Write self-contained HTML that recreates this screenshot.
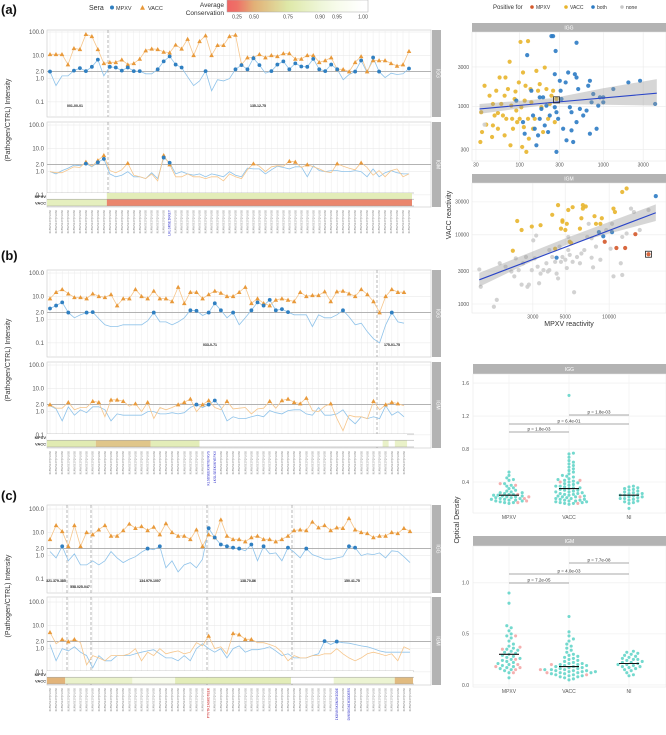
<!DOCTYPE html>
<html><head><meta charset="utf-8">
<style>
html,body{margin:0;padding:0;background:#fff;}
svg{display:block;font-family:"Liberation Sans",sans-serif;}
</style></head>
<body>
<svg id="fig" width="666" height="735" viewBox="0 0 666 735" xmlns="http://www.w3.org/2000/svg"></svg>
<script>
// ---------------- DATA ----------------
// Panel (a)
const aIggVacc=[11,11,11,4,20,18,80,65,18,4.5,5,5,6.5,4,4.5,7,16,19,18,14,13,28,19,50,10,40,70,10,27,27,65,75,4,8,8,11,8,10,9,12,12,7,7,10,10,5,6,8,2.5,2.5,2,5,9,2,6,6,6,4.5,3.5,4,15];
const aIggMpxv=[2,0.5,1.3,1.3,2.2,2.8,2.1,3.2,6.5,1.3,3.2,3,2.2,3,2.1,2.1,1.6,1.6,2.5,5.5,9,4,3,1.2,0.5,0.8,2.1,0.3,0.9,0.8,1,2.5,3.8,2.5,7.5,3.8,1.7,2.1,4,5.5,2.5,4.5,3.3,3.2,7,2.5,2.1,4,2.5,0.9,1.5,2,6,1.8,8,2,1.1,1.7,1.5,1.6,2.7];
const aIgmVacc=[1,0.9,0.9,1.2,1.6,1.5,2.6,1.7,3,5,1.1,0.9,1.2,2.3,0.7,0.6,0.5,0.8,0.4,5,2,0.6,0.6,0.8,0.6,0.6,0.5,0.6,0.6,0.4,0.8,0.6,0.5,1.2,2.2,1.7,1,1.6,1.8,1.7,2.8,2.6,1.5,2,1.6,1.3,1,0.9,2.2,1.7,1.4,1.2,2.4,1.5,0.7,1.1,0.6,1.1,1.3,0.6,0.8];
const aIgmMpxv=[1,0.8,1.1,1.4,1.9,1.8,2.2,1.6,2.5,3.5,0.8,0.6,0.7,1,0.6,0.6,0.5,0.9,0.5,4,2.4,0.8,1,0.8,0.7,0.8,0.6,0.8,0.7,0.6,1,0.7,0.6,1.4,1.3,1.3,0.8,1.2,1.7,1.5,1.3,1.6,1.6,0.6,1.8,1.1,1,1.1,1.1,1.0,1.0,1.1,1,0.6,1.3,0.6,0.9,1.1,0.9,0.8,0.8];
const aConsMpxv=[[0,9,1.0],[10,60,0.8]];
const aConsVacc=[[0,9,0.82],[10,60,0.33]];
const aRegions=["001-00-01","135-12-75"];
// Panel (b)
const bIggVacc=[8,15,20,13,9,9,8,13,10,9,12,4,8,8,20,10,8,17,8,8,6,25,5,15,15,8,12,17,14,10,10,15,25,5,8,5,4,7,8,7,6,15,10,11,11,16,6,16,17,13,10,20,12,6,2,10,20,15,15];
const bIggMpxv=[3,4,5.5,2,1.2,1.6,2,2.1,1.1,0.6,0.5,0.5,0.6,0.6,0.6,0.6,0.9,2,0.8,0.8,0.6,0.8,1.2,2.5,2.4,1.5,2,5,2.5,1.2,2,0.6,1.2,2.5,5.5,4,7,2.5,2.8,2.1,1.6,1.6,1.6,0.5,1.6,1.2,1.2,1.6,2.5,1.3,0.6,0.7,0.3,0.15,0.1,0.6,2,0.8,0.7];
const bIgmVacc=[2,1.4,1.4,2.5,1.2,1.5,1.5,2.8,2.5,0.6,3.2,3.2,2.8,1.7,2.2,1,2.5,0.5,1.5,1.2,1.5,2,2.5,3.5,1,2,3,1.5,1.2,2.8,1.3,1.4,1.5,0.8,1.3,1.4,2.8,1.4,3,3.5,2.5,2.2,3.8,1.1,1,1.7,2.2,0.5,0.15,0.7,0.6,0.6,0.5,2.8,1.2,2,2.5,2.2,1.8];
const bIgmMpxv=[1.8,1.3,0.4,1.6,0.7,1.2,0.9,1.6,1.6,1.2,0.4,0.8,0.7,0.7,0.7,0.7,1,1,0.8,0.8,0.9,0.8,0.9,1.5,2,1.5,2,3,1.5,0.4,0.6,0.5,0.5,0.6,0.7,0.6,1.1,0.9,0.8,1.1,1.2,1.2,0.8,0.7,1.5,0.7,0.7,0.8,1.2,0.5,0.3,0.6,0.5,0.6,0.5,1.8,0.7,1,0.6];
const bConsMpxv=[[0,58,1.0]];
const bConsVacc=[[0,7,0.78],[8,16,0.6],[17,24,0.8],[25,54,1.0],[55,55,0.85],[56,56,1.0],[57,58,0.85]];
const bRegions=["033-0-71","175-01-75"];
// Panel (c)
const cIggVacc=[5,20,11,2.5,20,2.5,10,8,13,20,7,7,12,23,15,18,12,17,8,24,10,7,7,5,13,2.5,8,6,35,7,5,5,4,6,7,5,5,4,5,7,12,13,12,28,16,20,12,16,15,40,13,10,9,6,7,7,10,9,15,11];
const cIggMpxv=[1.5,0.8,2.5,0.6,1.2,0.4,0.4,0.6,0.4,0.6,1.5,0.8,0.5,0.7,0.9,1.4,2,1.8,2.5,0.3,0.6,0.2,0.4,0.5,0.3,0.7,15,6,3,2.5,2.2,2,1.6,3,0.6,2.5,1.2,1.3,0.6,2.2,1.4,0.8,2,1.1,0.9,0.7,0.7,0.8,0.9,2.5,2.2,1,1.2,1.1,1.3,0.8,1.6,1.5,0.9,0.5];
const cIgmVacc=[5,1.6,2.5,2,2.5,1.8,0.2,0.5,0.4,0.3,0.5,0.5,0.5,0.6,1,0.3,0.7,0.5,1,0.6,0.7,0.8,0.6,0.7,1.8,1.3,3.5,1,1.2,0.6,4.5,4,2.5,2.5,1.8,1.8,1.5,1.2,0.7,0.3,0.5,0.4,0.4,0.5,0.5,0.6,0.6,1,0.6,0.4,0.3,0.4,0.6,0.7,0.6,0.5,0.6,0.3,1.2,0.9];
const cIgmMpxv=[1.5,0.3,1,0.8,1.2,0.7,0.5,0.15,0.5,0.3,0.3,0.5,0.5,0.5,0.6,0.7,0.8,0.9,0.6,0.4,0.4,0.3,0.5,0.3,1,1.6,1,0.7,1,0.4,1,1.3,0.7,0.9,0.9,1,1.2,0.8,0.5,0.6,0.4,0.4,0.4,0.5,0.6,2.1,1.5,2,1.8,1.7,1.5,1.3,1.2,1,0.8,0.7,0.7,0.7,0.7,0.7];
const cConsMpxv=[[0,59,1.0]];
const cConsVacc=[[0,2,0.52],[3,13,0.86],[14,20,0.95],[21,39,0.8],[40,46,1.0],[47,56,0.88],[57,59,0.55]];
const cRegions=["321.379-385","558.025-047","134.979-1007","138.70-86","150.41-75"];
const tickVals=[100,10,2,1,0.1];
const tickLabels=["100.0","10.0","2.0","1.0","0.1"];

// IgG scatter (log10 reactivity)
const iggYelX=[1.53,1.54,1.55,1.58,1.60,1.64,1.67,1.68,1.70,1.72,1.74,1.76,1.78,1.80,1.82,1.83,1.84,1.86,1.88,1.89,1.90,1.92,1.94,1.95,1.97,1.99,2.00,2.01,2.02,2.03,2.04,2.05,2.06,2.07,2.08,2.10,2.10,2.11,2.13,2.14,2.16,2.18,2.20,2.22,2.24,2.26,2.28,2.30,2.32,2.34,2.36,2.38,2.40,2.42,2.44,1.91,1.82,1.74,1.68,1.96];
const iggYelY=[2.57,2.93,2.69,3.25,2.78,3.13,2.63,3.03,2.89,3.19,2.92,3.35,3.03,2.89,3.13,3.35,2.85,3.21,3.54,2.53,3.01,2.73,3.09,3.18,2.81,3.29,2.85,3.78,2.99,2.51,3.41,2.75,3.07,3.25,2.45,3.79,2.85,2.61,3.21,3.05,2.73,2.85,3.43,3.19,3.27,2.99,2.69,3.47,3.21,2.85,3.03,3.13,3.19,2.81,3.09,2.85,2.65,2.73,2.77,2.95];
const iggBluX=[1.96,2.09,2.14,2.16,2.18,2.20,2.22,2.24,2.26,2.28,2.30,2.32,2.34,2.36,2.38,2.40,2.42,2.43,2.44,2.46,2.48,2.49,2.50,2.52,2.55,2.56,2.58,2.60,2.62,2.64,2.66,2.68,2.68,2.70,2.72,2.76,2.80,2.82,2.84,2.84,2.86,2.88,2.92,2.94,2.96,3.00,3.00,3.12,3.30,3.44,3.62,2.68,2.62,2.44,2.42,2.24,2.06,2.04];
const iggBluY=[3.07,3.62,3.19,2.89,2.73,2.53,2.65,2.85,2.97,3.11,2.77,3.01,2.69,2.89,3.85,3.85,3.39,3.67,2.93,2.85,3.31,3.19,3.09,2.73,3.29,2.59,3.41,2.99,2.93,2.57,3.39,3.35,3.77,3.21,2.97,2.89,2.95,3.25,3.31,2.67,3.05,3.15,2.73,3.01,3.11,3.11,3.05,3.21,3.29,3.31,3.03,2.81,2.71,2.45,2.99,3.11,2.67,2.81];
const iggGryX=[1.58];
const iggGryY=[2.78];
const iggFit=[[1.52,2.97],[3.64,3.16]];
// IgM scatter (log10 reactivity)
const igmYelX=[3.34,3.37,3.40,3.47,3.53,3.61,3.63,3.65,3.67,3.68,3.68,3.70,3.71,3.72,3.73,3.75,3.80,3.81,3.82,3.82,3.84,3.90,3.91,3.95,3.94,4.03,4.04,4.09,4.12,3.74];
const igmYelY=[3.77,4.20,4.07,4.12,4.14,4.29,3.80,4.43,4.09,4.19,4.21,4.07,4.16,4.36,3.90,4.40,4.09,4.24,4.43,4.38,4.41,4.27,4.16,4.24,4.16,4.38,4.33,4.62,4.67,3.88];
const igmBluX=[3.64,3.93,3.96,4.02,4.32];
const igmBluY=[3.67,4.04,3.98,4.04,4.56];
const igmRedX=[3.97,4.05,4.11,4.18,4.27];
const igmRedY=[3.90,3.81,3.81,4.01,3.72];
const igmGryX=[3.11,3.12,3.21,3.23,3.25,3.29,3.33,3.35,3.36,3.38,3.40,3.41,3.43,3.44,3.45,3.47,3.48,3.49,3.50,3.51,3.52,3.53,3.55,3.57,3.58,3.59,3.61,3.63,3.64,3.65,3.66,3.67,3.68,3.70,3.71,3.72,3.72,3.73,3.75,3.76,3.78,3.80,3.81,3.83,3.85,3.86,3.88,3.89,3.91,3.94,3.98,4.01,4.02,4.03,4.08,4.09,4.12,4.15,4.17,4.21,4.27,4.09,3.88,3.59];
const igmGryY=[3.50,3.25,2.96,3.06,3.59,3.54,3.47,3.40,3.66,3.49,3.28,3.59,3.68,3.25,3.28,3.49,3.92,3.66,3.99,3.54,3.30,3.44,3.49,3.59,3.47,3.49,3.68,3.61,3.44,3.37,3.83,3.61,3.68,3.64,3.52,3.97,3.78,3.71,3.61,3.17,3.68,3.59,3.73,3.78,3.97,4.16,3.67,3.53,3.83,3.64,4.07,3.80,4.16,3.40,3.59,3.42,4.02,4.38,4.33,4.07,4.36,3.97,3.95,3.78];
const igmFit=[[3.11,3.35],[4.32,4.32]];

// Optical density
const odGroups=["MPXV","VACC","NI"];
const odIggTeal=[[0.52,0.48,0.45,0.43,0.42,0.38,0.36,0.35,0.33,0.32,0.30,0.29,0.28,0.27,0.27,0.26,0.25,0.25,0.24,0.24,0.23,0.23,0.22,0.22,0.21,0.21,0.20,0.20,0.19,0.19,0.18,0.18,0.17,0.17,0.16,0.15,0.15,0.14],
 [1.45,0.75,0.74,0.70,0.66,0.64,0.62,0.60,0.58,0.56,0.54,0.52,0.50,0.48,0.47,0.46,0.44,0.43,0.42,0.41,0.40,0.39,0.38,0.37,0.36,0.35,0.35,0.34,0.33,0.33,0.32,0.31,0.30,0.30,0.29,0.28,0.28,0.27,0.26,0.26,0.25,0.25,0.24,0.23,0.23,0.22,0.22,0.21,0.20,0.20,0.19,0.19,0.18,0.18,0.17,0.17,0.16,0.16,0.15,0.15,0.14,0.14,0.13],
 [0.35,0.34,0.33,0.32,0.31,0.30,0.29,0.28,0.27,0.26,0.26,0.25,0.24,0.24,0.23,0.22,0.22,0.21,0.20,0.20,0.19,0.18,0.17,0.16,0.15,0.14,0.08]];
const odIggPink=[[0.38,0.36,0.25,0.22,0.20,0.17,0.15],[0.42,0.40,0.22,0.14],[]];
const odIggMedian=[0.24,0.32,0.24];
const odIgmTeal=[[0.90,0.80,0.58,0.56,0.53,0.50,0.48,0.46,0.43,0.40,0.38,0.36,0.35,0.34,0.33,0.32,0.31,0.30,0.29,0.28,0.27,0.26,0.25,0.24,0.23,0.22,0.21,0.20,0.19,0.18,0.17,0.16,0.15,0.14,0.12,0.07],
 [0.67,0.52,0.48,0.45,0.43,0.40,0.38,0.36,0.34,0.32,0.30,0.29,0.28,0.27,0.26,0.25,0.24,0.23,0.22,0.21,0.21,0.20,0.20,0.19,0.19,0.18,0.18,0.17,0.17,0.16,0.16,0.15,0.15,0.15,0.14,0.14,0.14,0.13,0.13,0.13,0.12,0.12,0.12,0.11,0.11,0.10,0.10,0.09,0.09,0.08,0.08,0.07,0.06,0.05],
 [0.33,0.32,0.31,0.30,0.29,0.28,0.27,0.26,0.25,0.25,0.24,0.23,0.22,0.22,0.21,0.20,0.20,0.19,0.18,0.18,0.17,0.16,0.15,0.14,0.12,0.10,0.09]];
const odIgmPink=[[0.48,0.37,0.35,0.25,0.20,0.18,0.17,0.15,0.12],[0.20,0.15,0.12,0.10],[]];
const odIgmMedian=[0.30,0.18,0.21];
const odIggP=[["p = 1.8e-03",0,1],["p = 6.4e-01",0,2],["p = 1.8e-03",1,2]];
const odIgmP=[["p = 7.2e-05",0,1],["p = 4.0e-03",0,2],["p = 7.7e-08",1,2]];

// ---------------- DRAWING ----------------
const NS='http://www.w3.org/2000/svg';
const svg=document.getElementById('fig');
function mk(tag,attrs,parent,name){
  const e=document.createElementNS(NS,tag);
  for(const k in attrs) e.setAttribute(k,attrs[k]);
  
  
  (parent||svg).appendChild(e);
  return e;
}
function txt(x,y,s,size,opts,name){
  const t=mk('text',Object.assign({x:x,y:y,'font-size':size,fill:'#444'},opts||{}),opts&&opts.parent?opts.parent:svg,name);
  t.removeAttribute('parent');
  t.textContent=s;
  return t;
}
function lerp(a,b,t){return a+(b-a)*t;}
const consStops=[[0.2,[240,100,100]],[0.5,[226,176,118]],[0.75,[222,232,168]],[0.9,[238,246,216]],[1.0,[255,255,255]]];
function consColor(v){
  for(let i=0;i<consStops.length-1;i++){
    const a=consStops[i],b=consStops[i+1];
    if(v<=b[0]){const t=Math.max(0,(v-a[0])/(b[0]-a[0]));
      return 'rgb('+a[1].map((c,j)=>Math.round(lerp(c,b[1][j],t))).join(',')+')';}
  }
  return '#fff';
}

// top legend
txt(89,10,'Sera',7,{fill:'#333'},'sera-legend-title');
mk('circle',{cx:112,cy:7.5,r:2,fill:'#2f7fc1'},svg,'legend-mpxv-marker');
txt(116,10,'MPXV',5.5,{fill:'#333'},'legend-mpxv-label');
mk('path',{d:'M140,9.8 L142.5,5 L145,9.8 Z',fill:'#e8993a'},svg,'legend-vacc-marker');
txt(148,10,'VACC',5.5,{fill:'#333'},'legend-vacc-label');
txt(224,7,'Average',6.5,{fill:'#333','text-anchor':'end'},'conservation-legend-title');
txt(224,15,'Conservation',6.5,{fill:'#333','text-anchor':'end'},'conservation-legend-title-2');
const defs=mk('defs',{},svg,'defs');
const grad=mk('linearGradient',{id:'consGrad',x1:'227',x2:'368',y1:'0',y2:'0',gradientUnits:'userSpaceOnUse'},defs,'conservation-gradient');
const gradVals=[0.2,0.25,0.5,0.75,0.9,0.95,1.0];
const gradPos=[227,237,254,288,320,337,363];
gradVals.forEach((v,i)=>{mk('stop',{offset:((gradPos[i]-227)/141).toFixed(3),'stop-color':consColor(v)},grad,'gradient-stop');});
mk('stop',{offset:'1','stop-color':'#fff'},grad,'gradient-stop');
mk('rect',{x:227,y:0,width:141,height:12,fill:'url(#consGrad)',stroke:'#aaa','stroke-width':0.5},svg,'conservation-colorbar');
const cbLabels=["0.25","0.50","0.75","0.90","0.95","1.00"];
cbLabels.forEach((l,i)=>{txt(gradPos[i+1],18.5,l,5,{fill:'#444','text-anchor':'middle'},'colorbar-tick-label');});

// left panels
const leftX0=47, leftX1=431, fx0=50;
const dec=23.3;
function seriesPanel(top,y100,bottom,lastX,vacc,mpxv,strip,vlines,panelName){
  const n=vacc.length;
  const xs=i=>fx0+i*(lastX-fx0)/(n-1);
  const ys=v=>Math.min(bottom-1,Math.max(top+1,y100+(2-Math.log10(v))*dec));
  const g=mk('g',{},svg,panelName);
  mk('rect',{x:leftX0,y:top,width:leftX1-leftX0,height:bottom-top,fill:'#fff',stroke:'#c8c8c8','stroke-width':0.6},g,'panel-background');
  for(let i=0;i<n;i++) mk('line',{x1:xs(i),x2:xs(i),y1:top,y2:bottom,stroke:'#ececec','stroke-width':0.5},g,'x-gridline');
  tickVals.forEach((v,k)=>{
    const y=ys(v);
    mk('line',{x1:leftX0,x2:leftX1,y1:y,y2:y,stroke:v===2?'#a8a8a8':'#e6e6e6','stroke-width':v===2?0.8:0.5},g,'y-gridline');
    txt(44,y+2,tickLabels[k],6,{fill:'#555','text-anchor':'end'},'y-tick-label');
  });
  (vlines||[]).forEach(vx=>mk('line',{x1:vx,x2:vx,y1:top,y2:bottom,stroke:'#888','stroke-width':0.6,'stroke-dasharray':'3,2'},g,'region-divider'));
  const pm=mpxv.map((v,i)=>xs(i).toFixed(1)+','+ys(v).toFixed(1)).join(' ');
  const pv=vacc.map((v,i)=>xs(i).toFixed(1)+','+ys(v).toFixed(1)).join(' ');
  mk('polyline',{points:pm,fill:'none',stroke:'#8fc3ea','stroke-width':0.8},g,'mpxv-line');
  mk('polyline',{points:pv,fill:'none',stroke:'#f6c68c','stroke-width':0.8},g,'vacc-line');
  vacc.forEach((v,i)=>{ if(v>=2){const x=xs(i),y=ys(v);
    mk('path',{d:`M${x-2.3},${y+1.8} L${x},${y-2.3} L${x+2.3},${y+1.8} Z`,fill:'#e8993a'},g,'vacc-marker');}});
  mpxv.forEach((v,i)=>{ if(v>=2){
    mk('circle',{cx:xs(i),cy:ys(v),r:1.9,fill:'#2f7fc1'},g,'mpxv-marker');}});
  mk('rect',{x:432,y:top,width:9,height:bottom-top,fill:'#b3b3b3'},g,'facet-strip');
  const st=txt(436.5,(top+bottom)/2,strip,5,{fill:'#fff','text-anchor':'middle',transform:`rotate(90 436.5 ${(top+bottom)/2})`},'facet-strip-label');
  return {xs:xs,n:n};
}
function consBars(y,lastX,n,mSegs,vSegs,name){
  const step=(lastX-fx0)/(n-1);
  const g=mk('g',{},svg,name);
  mk('line',{x1:leftX0,x2:414,y1:y,y2:y,stroke:'#999','stroke-width':0.5},g,'cons-line');
  mSegs.forEach(s=>mk('rect',{x:fx0+(s[0]-0.5)*step,y:y,width:(s[1]-s[0]+1)*step,height:6,fill:consColor(s[2])},g,'mpxv-conservation-cell'));
  vSegs.forEach(s=>mk('rect',{x:fx0+(s[0]-0.5)*step,y:y+6.5,width:(s[1]-s[0]+1)*step,height:6.5,fill:consColor(s[2])},g,'vacc-conservation-cell'));
  mk('line',{x1:leftX0,x2:414,y1:y+6.2,y2:y+6.2,stroke:'#999','stroke-width':0.5},g,'cons-line');
  mk('line',{x1:leftX0,x2:414,y1:y+13,y2:y+13,stroke:'#999','stroke-width':0.5},g,'cons-line');
  txt(46,y+5,'MPXV',4,{fill:'#333','text-anchor':'end','font-weight':'bold'},'cons-row-label');
  txt(46,y+11.5,'VACC',4,{fill:'#333','text-anchor':'end','font-weight':'bold'},'cons-row-label');
}
function peptideLabels(xs,n,y,special,name){
  const g=mk('g',{},svg,name);
  for(let i=0;i<n;i++){
    const sp=special[i];
    const x=xs(i)+1;
    const s=sp?sp[0]:'KLMNVSEITQPLKSD';
    txt(x,y,s,sp?3.6:2.6,{fill:sp?sp[1]:'#888','text-anchor':'end','font-family':'Liberation Mono, monospace',transform:`rotate(-90 ${x} ${y})`},'peptide-tick-label');
  }
}
// (a)
txt(1,14,'(a)',13,{fill:'#111','font-weight':'bold'},'panel-label-a');
let pa=seriesPanel(30,32,117,409,aIggVacc,aIggMpxv,'IGG',[108],'panel-a-igg');
seriesPanel(122,125,207,409,aIgmVacc,aIgmMpxv,'IGM',[108],'panel-a-igm');
consBars(193,409,pa.n,aConsMpxv,aConsVacc,'panel-a-conservation');
txt(75,107,aRegions[0],3.5,{fill:'#222','font-weight':'bold','text-anchor':'middle'},'region-label');
txt(258,107,aRegions[1],3.5,{fill:'#222','font-weight':'bold','text-anchor':'middle'},'region-label');
peptideLabels(pa.xs,pa.n,210,{20:['LKLGRSEIKKEY','#3a3acc']},'panel-a-x-labels');
// (b)
txt(1,260,'(b)',13,{fill:'#111','font-weight':'bold'},'panel-label-b');
let pb=seriesPanel(270,273,357,404,bIggVacc,bIggMpxv,'IGG',[377],'panel-b-igg');
seriesPanel(362,365,448,404,bIgmVacc,bIgmMpxv,'IGM',[377],'panel-b-igm');
consBars(434,404,pb.n,bConsMpxv,bConsVacc,'panel-b-conservation');
txt(210,346,bRegions[0],3.5,{fill:'#222','font-weight':'bold','text-anchor':'middle'},'region-label');
txt(392,346,bRegions[1],3.5,{fill:'#222','font-weight':'bold','text-anchor':'middle'},'region-label');
peptideLabels(pb.xs,pb.n,451,{26:['KLSDSEEKVKYEFKVS','#3a3acc'],27:['LKSLSEEKVKYEFKV','#3a3acc']},'panel-b-x-labels');
// (c)
txt(1,500,'(c)',13,{fill:'#111','font-weight':'bold'},'panel-label-c');
let pc=seriesPanel(505,509,593,410,cIggVacc,cIggMpxv,'IGG',[67,91,207,292],'panel-c-igg');
seriesPanel(597,602,685,410,cIgmVacc,cIgmMpxv,'IGM',[67,91,207,292],'panel-c-igm');
consBars(671,410,pc.n,cConsMpxv,cConsVacc,'panel-c-conservation');
[[56,582],[80,588],[150,582],[248,582],[352,582]].forEach((p,i)=>txt(p[0],p[1],cRegions[i],3.5,{fill:'#222','font-weight':'bold','text-anchor':'middle'},'region-label'));
peptideLabels(pc.xs,pc.n,688,{26:['PTVTKIAGKDTEEK','#cc2a2a'],47:['IKDVKSKGNIHIDDE','#3a3acc'],49:['DVKSKGNIHIDDERS','#3a3acc']},'panel-c-x-labels');
// y titles
[[120],[360],[596]].forEach(c=>txt(10,c[0],'(Pathogen/CTRL) Intensity',7,{fill:'#333','text-anchor':'middle',transform:`rotate(-90 10 ${c[0]})`},'y-axis-title'));

// right legend
txt(493,9,'Positive for',6,{fill:'#333'},'positive-legend-title');
const posLeg=[['MPXV','#d4582a',532],['VACC','#e8b52c',566],['both','#2c7bc4',593],['none','#c8c8c8',622]];
posLeg.forEach(p=>{mk('circle',{cx:p[2],cy:7,r:1.8,fill:p[1]},svg,'positive-legend-marker');txt(p[2]+4,9,p[0],5,{fill:'#333'},'positive-legend-label');});

function scatter(top,bottom,xr,yr,xt,xtl,yt,ytl,sets,fit,band,boxPt,strip,name){
  const L=472,R=666;
  const g=mk('g',{},svg,name);
  const sx=v=>L+(v-xr[0])/(xr[1]-xr[0])*(R-L);
  const sy=v=>bottom-(v-yr[0])/(yr[1]-yr[0])*(bottom-top);
  mk('rect',{x:L,y:top-9,width:R-L,height:9,fill:'#b3b3b3'},g,'facet-strip');
  txt((L+R)/2,top-2.5,strip,5,{fill:'#fff','text-anchor':'middle'},'facet-strip-label');
  mk('rect',{x:L,y:top,width:R-L,height:bottom-top,fill:'#fff',stroke:'#e0e0e0','stroke-width':0.5},g,'plot-background');
  xt.forEach((v,i)=>{const x=sx(Math.log10(v));
    mk('line',{x1:x,x2:x,y1:top,y2:bottom,stroke:'#ebebeb','stroke-width':0.6},g,'x-gridline');
    if(xtl) txt(x,bottom+5.5,xtl[i],5,{fill:'#555','text-anchor':'middle'},'x-tick-label');});
  yt.forEach((v,i)=>{const y=sy(Math.log10(v));
    mk('line',{x1:L,x2:R,y1:y,y2:y,stroke:'#ebebeb','stroke-width':0.6},g,'y-gridline');
    txt(L-3,y+1.8,ytl[i],5,{fill:'#555','text-anchor':'end'},'y-tick-label');});
  const bp=band.map(b=>[sx(b[0]),sy(b[1]),sy(b[2])]);
  let d='M'+bp.map(b=>b[0]+','+b[1]).join(' L')+' L'+bp.slice().reverse().map(b=>b[0]+','+b[2]).join(' L')+'Z';
  sets.forEach(s=>{s[0].forEach((x,i)=>mk('circle',{cx:sx(x),cy:sy(s[1][i]),r:2.1,fill:s[2],'fill-opacity':0.9},g,s[3]));});
  mk('path',{d:d,fill:'#999','fill-opacity':0.4},g,'confidence-band');
  mk('line',{x1:sx(fit[0][0]),y1:sy(fit[0][1]),x2:sx(fit[1][0]),y2:sy(fit[1][1]),stroke:'#2a45c8','stroke-width':1.1},g,'regression-line');
  mk('rect',{x:sx(boxPt[0])-3,y:sy(boxPt[1])-3,width:6,height:6,fill:'none',stroke:'#222','stroke-width':0.8},g,'highlight-box');
  return {sx,sy};
}
scatter(32,161,[1.43,3.75],[2.34,3.90],[30,100,300,1000,3000],["30","100","300","1000","3000"],[300,1000,3000],["300","1000","3000"],
  [[iggYelX,iggYelY,'#e8b52c','vacc-point'],[iggBluX,iggBluY,'#2c7bc4','both-point'],[iggGryX,iggGryY,'#cfcfcf','none-point']],
  iggFit,[[1.52,2.91,3.03],[2.4,3.03,3.10],[3.0,3.02,3.22],[3.64,3.01,3.33]],[2.44,3.08],'IGG','igg-scatter');
scatter(183,313,[3.06,4.39],[2.87,4.75],[3000,5000,10000],["3000","5000","10000"],[1000,3000,10000,30000],["1000","3000","10000","30000"],
  [[igmGryX,igmGryY,'#cdcdcd','none-point'],[igmYelX,igmYelY,'#e8b52c','vacc-point'],[igmBluX,igmBluY,'#2c7bc4','both-point'],[igmRedX,igmRedY,'#d4582a','mpxv-point']],
  igmFit,[[3.11,3.25,3.45],[3.7,3.85,3.95],[4.32,4.2,4.44]],[4.27,3.72],'IGM','igm-scatter');
txt(569,326,'MPXV reactivity',7,{fill:'#333','text-anchor':'middle'},'x-axis-title');
txt(451,215,'VACC reactivity',7,{fill:'#333','text-anchor':'middle',transform:'rotate(-90 451 215)'},'y-axis-title-scatter');

function density(top,bottom,yr,yt,teal,pink,med,pv,pys,strip,name){
  const L=473,R=666;
  const gx=[509,569,629];
  const g=mk('g',{},svg,name);
  const sy=v=>bottom-(v-yr[0])/(yr[1]-yr[0])*(bottom-top);
  mk('rect',{x:L,y:top-10,width:R-L,height:10,fill:'#b3b3b3'},g,'facet-strip');
  txt((L+R)/2,top-3,strip,5,{fill:'#fff','text-anchor':'middle'},'facet-strip-label');
  mk('rect',{x:L,y:top,width:R-L,height:bottom-top,fill:'#fff',stroke:'#e6e6e6','stroke-width':0.5},g,'plot-background');
  yt.forEach(v=>{const y=sy(v);mk('line',{x1:L,x2:R,y1:y,y2:y,stroke:'#ececec','stroke-width':0.6},g,'y-gridline');
    txt(L-4,y+1.8,v.toFixed(1),5,{fill:'#555','text-anchor':'end'},'y-tick-label');});
  gx.forEach((x,k)=>{
    mk('line',{x1:x,x2:x,y1:top,y2:bottom,stroke:'#f0f0f0','stroke-width':0.6},g,'x-gridline');
    txt(x,bottom+6,odGroups[k],5,{fill:'#555','text-anchor':'middle'},'x-tick-label');
    const pts=teal[k].map(v=>[v,'#5ad2c6']).concat(pink[k].map(v=>[v,'#f3a2a2'])).sort((a,b)=>a[0]-b[0]);
    const placed=[];
    pts.forEach(p=>{const y=sy(p[0]);let off=0;
      for(let s=0;s<40;s++){const c=(s%2?1:-1)*Math.ceil(s/2)*2.2;
        if(placed.every(q=>Math.hypot(q[0]-c,q[1]-y)>=3.2)){off=c;break;}}
      placed.push([off,y]);
      mk('circle',{cx:x+off,cy:y,r:1.55,fill:p[1],'fill-opacity':0.85},g,'od-point');});
    mk('line',{x1:x-10,x2:x+10,y1:sy(med[k]),y2:sy(med[k]),stroke:'#111','stroke-width':1.1},g,'median-bar');
  });
  pv.forEach((p,i)=>{const y=pys[i];
    mk('line',{x1:gx[p[1]],x2:gx[p[2]],y1:y,y2:y,stroke:'#555','stroke-width':0.6},g,'significance-bar');
    txt((gx[p[1]]+gx[p[2]])/2,y-1.5,p[0],4.5,{fill:'#333','text-anchor':'middle'},'p-value-label');});
}
density(374,513,[0.024,1.71],[0.4,0.8,1.2,1.6],odIggTeal,odIggPink,odIggMedian,odIggP,[432,424,415],'IGG','igg-optical-density');
density(546,687,[-0.02,1.36],[0.0,0.5,1.0],odIgmTeal,odIgmPink,odIgmMedian,odIgmP,[583,574,563],'IGM','igm-optical-density');
txt(459,520,'Optical Density',7,{fill:'#333','text-anchor':'middle',transform:'rotate(-90 459 520)'},'y-axis-title-od');
</script>
</body></html>
